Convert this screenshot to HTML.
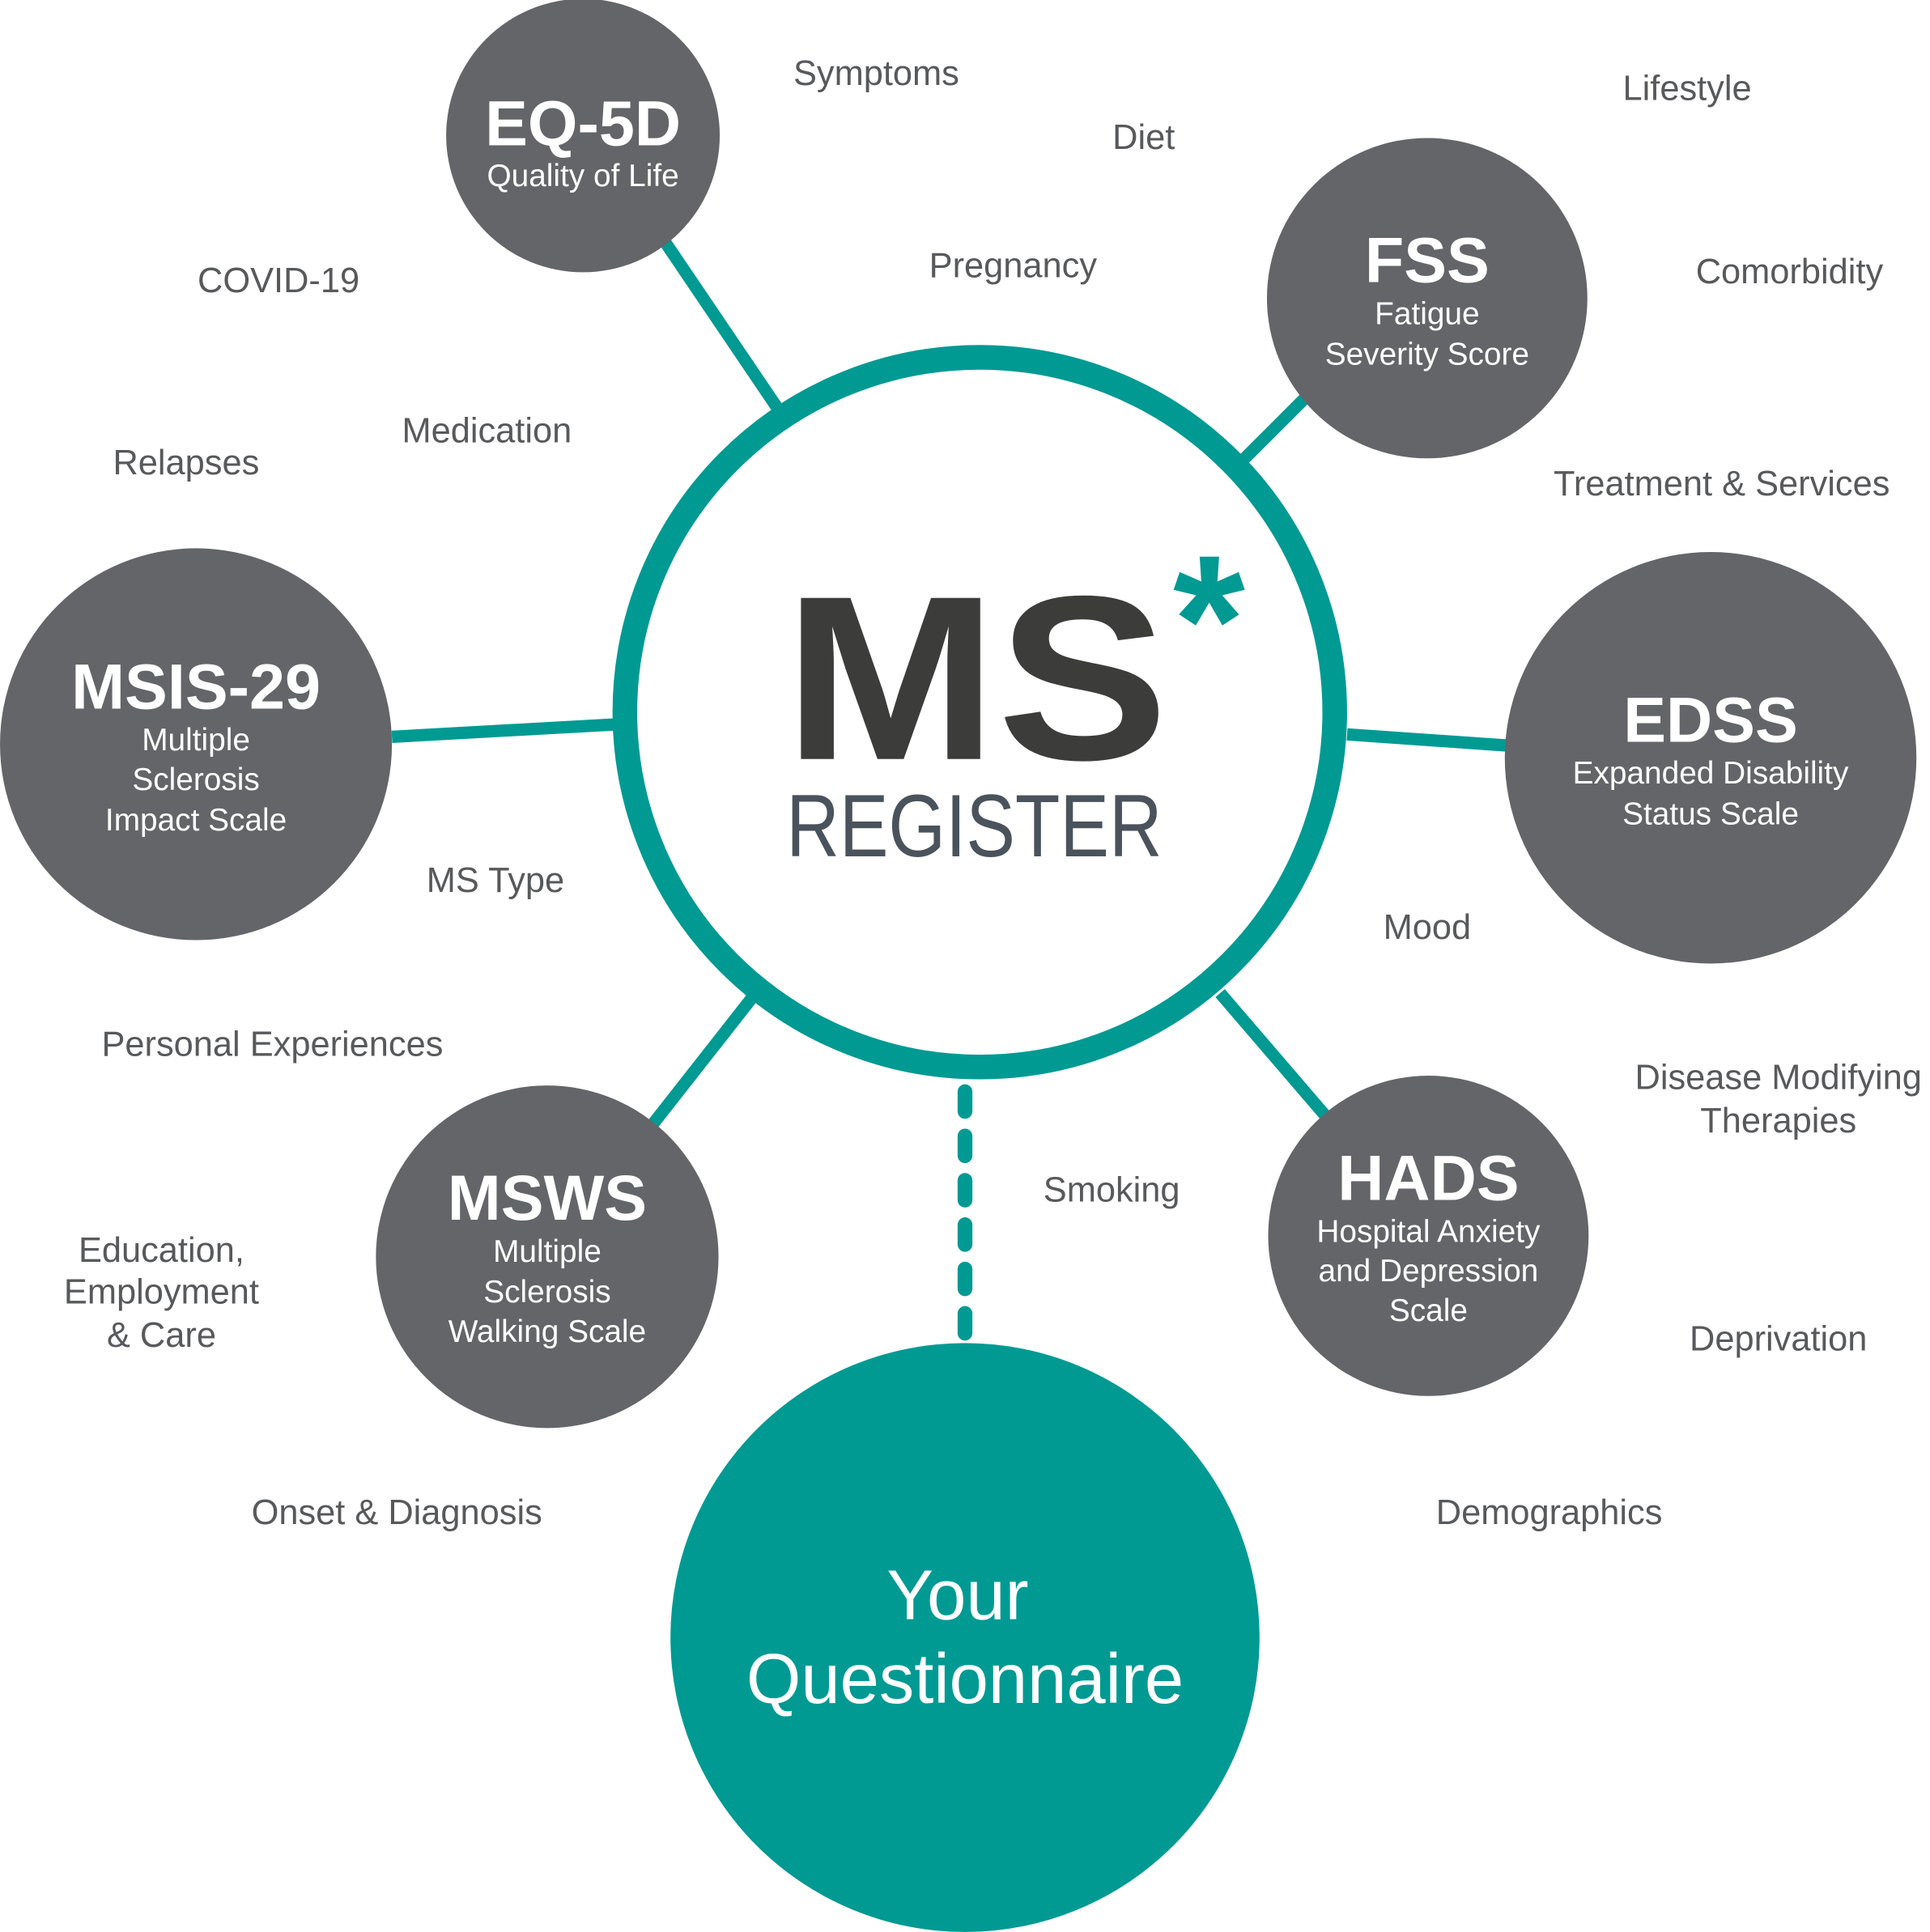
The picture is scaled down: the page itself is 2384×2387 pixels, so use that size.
<!DOCTYPE html>
<html><head><meta charset="utf-8"><style>
html,body{margin:0;padding:0;background:#fff;}
svg{display:block;}
text{font-family:"Liberation Sans",sans-serif;}
.l{font-size:28.5px;fill:#58595b;text-anchor:middle;}
.t{font-size:52px;font-weight:bold;fill:#fff;text-anchor:middle;}
.s{font-size:25.5px;fill:#fff;text-anchor:middle;}
</style></head><body>
<svg width="2384" height="2387" viewBox="0 0 1566 1568" xmlns="http://www.w3.org/2000/svg">
<g stroke="#009a93" stroke-width="10" fill="none">
<line x1="540" y1="197" x2="630" y2="330"/>
<line x1="1060" y1="322" x2="1010" y2="372"/>
<line x1="318" y1="598" x2="498" y2="588"/>
<line x1="1093" y1="596" x2="1222" y2="605"/>
<line x1="530" y1="912" x2="610" y2="810"/>
<line x1="990" y1="806" x2="1075" y2="905"/>
<line x1="783" y1="886" x2="783" y2="1085" stroke-width="12" stroke-linecap="round" stroke-dasharray="16 20"/>
</g>
<circle cx="795" cy="578" r="288" fill="#fff" stroke="#009a93" stroke-width="20"/>
<g fill="#646569">
<circle cx="473" cy="110" r="111"/>
<circle cx="1158" cy="242" r="130"/>
<circle cx="159" cy="604" r="159"/>
<circle cx="1388" cy="615" r="167"/>
<circle cx="444" cy="1020" r="139"/>
<circle cx="1159" cy="1003" r="130"/>
</g>
<circle cx="783" cy="1329" r="239" fill="#009a93"/>
<text x="636" y="616" font-size="190" font-weight="bold" fill="#3c3c3b" textLength="312" lengthAdjust="spacingAndGlyphs">MS</text>
<text x="981" y="555" font-size="150" font-weight="bold" fill="#009a93" text-anchor="middle">*</text>
<text x="638" y="695" font-size="72" fill="#4a535b" textLength="305" lengthAdjust="spacingAndGlyphs">REGISTER</text>

<text class="t" x="473" y="118">EQ-5D</text>
<text class="s" x="473" y="151">Quality of Life</text>
<text class="t" x="1158" y="229">FSS</text>
<text class="s" x="1158" y="263">Fatigue</text>
<text class="s" x="1158" y="296">Severity Score</text>
<text class="t" x="159" y="575">MSIS-29</text>
<text class="s" x="159" y="609">Multiple</text>
<text class="s" x="159" y="641">Sclerosis</text>
<text class="s" x="159" y="674">Impact Scale</text>
<text class="t" x="1388" y="602">EDSS</text>
<text class="s" x="1388" y="636">Expanded Disability</text>
<text class="s" x="1388" y="669">Status Scale</text>
<text class="t" x="444" y="990">MSWS</text>
<text class="s" x="444" y="1024">Multiple</text>
<text class="s" x="444" y="1057">Sclerosis</text>
<text class="s" x="444" y="1089">Walking Scale</text>
<text class="t" x="1159" y="974">HADS</text>
<text class="s" x="1159" y="1008">Hospital Anxiety</text>
<text class="s" x="1159" y="1040">and Depression</text>
<text class="s" x="1159" y="1072">Scale</text>
<text x="777" y="1314" font-size="57" fill="#fff" text-anchor="middle">Your</text>
<text x="783" y="1382" font-size="57" fill="#fff" text-anchor="middle">Questionnaire</text>

<text class="l" x="711" y="69">Symptoms</text>
<text class="l" x="928" y="121">Diet</text>
<text class="l" x="822" y="225">Pregnancy</text>
<text class="l" x="1369" y="81">Lifestyle</text>
<text class="l" x="1452" y="230">Comorbidity</text>
<text class="l" x="226" y="237">COVID-19</text>
<text class="l" x="395" y="359">Medication</text>
<text class="l" x="151" y="385">Relapses</text>
<text class="l" x="1397" y="402">Treatment &amp; Services</text>
<text class="l" x="402" y="724">MS Type</text>
<text class="l" x="1158" y="762">Mood</text>
<text class="l" x="221" y="857">Personal Experiences</text>
<text class="l" x="1443" y="884">Disease Modifying</text>
<text class="l" x="1443" y="919">Therapies</text>
<text class="l" x="902" y="975">Smoking</text>
<text class="l" x="131" y="1024">Education,</text>
<text class="l" x="131" y="1058">Employment</text>
<text class="l" x="131" y="1093">&amp; Care</text>
<text class="l" x="1443" y="1096">Deprivation</text>
<text class="l" x="322" y="1237">Onset &amp; Diagnosis</text>
<text class="l" x="1257" y="1237">Demographics</text>
</svg>
</body></html>
